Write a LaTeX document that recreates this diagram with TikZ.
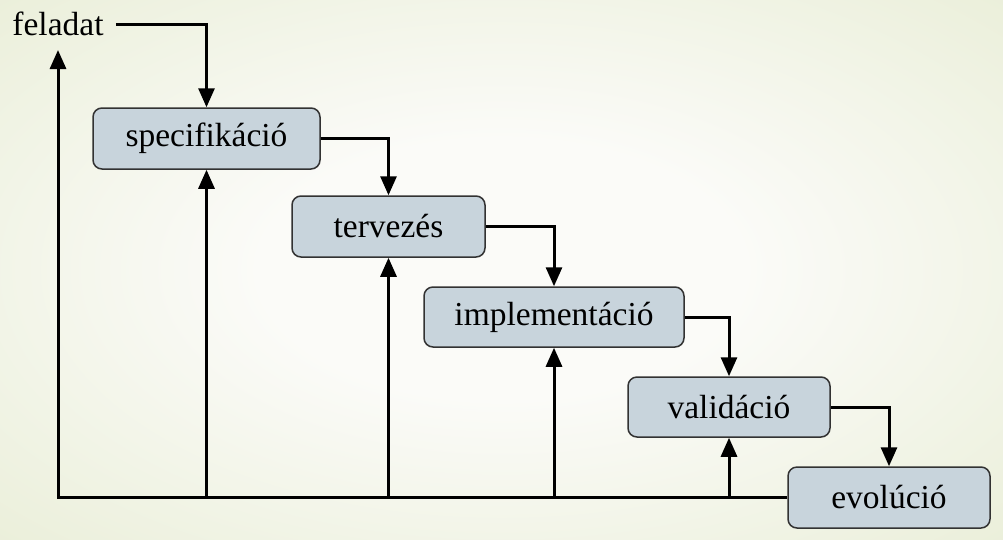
\documentclass[tikz,border=0pt]{standalone}
\usepackage{fontspec}
\setmainfont{Liberation Serif}
\usetikzlibrary{arrows.meta}
\definecolor{bgin}{RGB}{251,251,248}
\definecolor{bgout}{RGB}{225,232,200}
\definecolor{boxfill}{RGB}{200,212,220}
\definecolor{boxdraw}{RGB}{50,50,50}
\pgfdeclareradialshading{bgshade}{\pgfpoint{0bp}{0bp}}{color(0bp)=(bgin); color(12bp)=(bgin); color(50bp)=(bgout); color(72bp)=(bgout)}
\tikzset{
  stage/.style={draw=boxdraw, line width=1.5pt, fill=boxfill, rounded corners=9pt,
    minimum height=61pt, inner sep=0pt, font=\fontsize{33.5}{40}\selectfont},
  lbl/.style={inner sep=0pt, font=\fontsize{33.5}{40}\selectfont},
  conn/.style={line width=3pt, -{Triangle[length=19pt,width=16pt]}}
}
\begin{document}
\begin{tikzpicture}[x=1pt,y=-1pt]
\useasboundingbox (0,0) rectangle (1003,539);
\shade[shading=bgshade] (0,0) rectangle (1003,539);
\node[stage, minimum width=227pt] (spec) at (206.5,138.5) {specifikáció};
\node[stage, minimum width=193pt] (terv) at (388.5,226.5) {tervezés};
\node[stage, minimum width=260pt, minimum height=60pt] (impl) at (554,317) {implementáció};
\node[stage, minimum width=202pt, minimum height=60pt] (valid) at (729,407) {validáció};
\node[stage, minimum width=202pt] (evol) at (889,497.5) {evolúció};
\node[lbl, inner xsep=12pt] (fel) at (58,24) {feladat};
\coordinate (bl) at (58,497);
\coordinate (top) at (58,50);
\draw[conn] (fel.east) -| (spec.north);
\draw[conn] (spec.east) -| (terv.north);
\draw[conn] (terv.east) -| (impl.north);
\draw[conn] (impl.east) -| (valid.north);
\draw[conn] (valid.east) -| (evol.north);
\draw[conn] (evol.west |- bl) -- (bl) -- (top);
\draw[conn] (spec.south |- bl) -- (spec.south);
\draw[conn] (terv.south |- bl) -- (terv.south);
\draw[conn] (impl.south |- bl) -- (impl.south);
\draw[conn] (valid.south |- bl) -- (valid.south);
\end{tikzpicture}
\end{document}
